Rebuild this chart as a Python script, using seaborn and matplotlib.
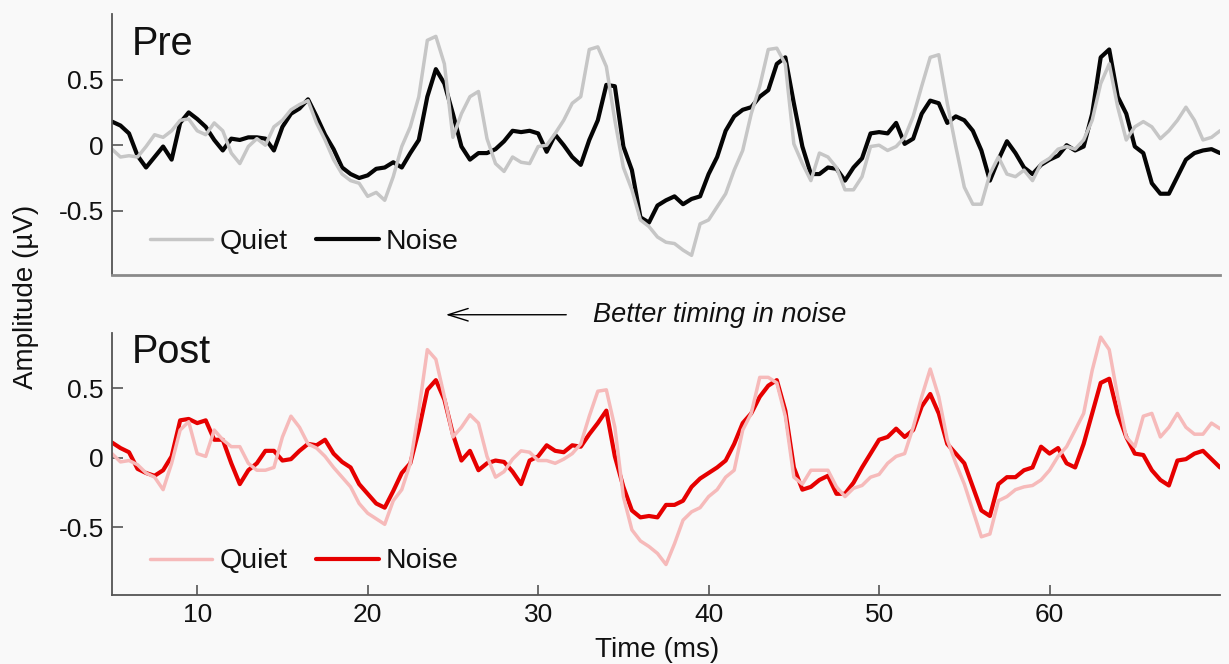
import numpy as np
import pandas as pd
import seaborn as sns
import matplotlib.pyplot as plt

# tiempo (ms), pasos de 0.5 ms
time_ms = np.arange(5, 70.01, 0.5)

# Pre: Quiet (gris) y Noise (negro), en µV
pre_quiet = [-0.03, -0.09, -0.08, -0.09, -0.01, 0.08, 0.06, 0.11, 0.19, 0.20,
             0.11, 0.08, 0.17, 0.11, -0.06, -0.14, -0.01, 0.05, 0.00, 0.14,
             0.19, 0.27, 0.31, 0.34, 0.17, 0.04, -0.11, -0.22, -0.27, -0.29,
             -0.39, -0.36, -0.42, -0.24, -0.01, 0.14, 0.37, 0.80, 0.83, 0.62,
             0.06, 0.24, 0.37, 0.41, 0.05, -0.14, -0.20, -0.09, -0.13, -0.14,
             -0.01, 0.00, 0.09, 0.19, 0.32, 0.37, 0.73, 0.75, 0.60, 0.19,
             -0.17, -0.34, -0.57, -0.62, -0.70, -0.74, -0.75, -0.80, -0.84, -0.60,
             -0.57, -0.47, -0.37, -0.19, -0.04, 0.24, 0.45, 0.73, 0.74, 0.62,
             0.01, -0.14, -0.27, -0.06, -0.09, -0.17, -0.34, -0.34, -0.24, -0.01,
             0.00, -0.04, -0.01, 0.06, 0.22, 0.45, 0.67, 0.69, 0.32, -0.01,
             -0.32, -0.45, -0.45, -0.22, -0.09, -0.22, -0.24, -0.19, -0.27, -0.14,
             -0.10, -0.03, -0.01, -0.03, 0.04, 0.19, 0.47, 0.62, 0.29, 0.04,
             0.14, 0.18, 0.14, 0.05, 0.11, 0.19, 0.29, 0.19, 0.04, 0.06,
             0.11]
pre_noise = [0.18, 0.15, 0.09, -0.08, -0.17, -0.09, -0.01, -0.11, 0.17, 0.25,
             0.20, 0.14, 0.04, -0.04, 0.05, 0.04, 0.06, 0.06, 0.05, -0.04,
             0.14, 0.24, 0.28, 0.35, 0.22, 0.08, -0.03, -0.17, -0.22, -0.25,
             -0.23, -0.18, -0.17, -0.13, -0.17, -0.06, 0.04, 0.37, 0.58, 0.47,
             0.24, -0.01, -0.11, -0.06, -0.06, -0.03, 0.03, 0.11, 0.10, 0.11,
             0.09, -0.05, 0.08, 0.00, -0.09, -0.15, 0.04, 0.19, 0.46, 0.45,
             -0.01, -0.19, -0.55, -0.59, -0.46, -0.42, -0.39, -0.45, -0.41, -0.39,
             -0.22, -0.09, 0.11, 0.22, 0.27, 0.29, 0.37, 0.42, 0.62, 0.67,
             0.32, -0.01, -0.22, -0.22, -0.17, -0.18, -0.27, -0.17, -0.10, 0.09,
             0.10, 0.09, 0.17, 0.01, 0.05, 0.24, 0.34, 0.32, 0.17, 0.22,
             0.19, 0.11, -0.04, -0.27, -0.11, 0.03, -0.06, -0.17, -0.22, -0.15,
             -0.11, -0.08, 0.00, -0.04, -0.01, 0.24, 0.67, 0.73, 0.37, 0.24,
             -0.01, -0.06, -0.29, -0.37, -0.37, -0.24, -0.11, -0.06, -0.04, -0.03,
             -0.06]

# Post: Quiet (rosa) y Noise (rojo)
post_quiet = [0.03, -0.03, -0.02, -0.05, -0.11, -0.14, -0.23, -0.04, 0.20, 0.26,
              0.03, 0.01, 0.20, 0.13, 0.08, 0.08, -0.04, -0.09, -0.09, -0.07,
              0.15, 0.30, 0.22, 0.10, 0.07, 0.01, -0.07, -0.14, -0.21, -0.33,
              -0.40, -0.44, -0.48, -0.31, -0.23, -0.04, 0.34, 0.78, 0.71, 0.44,
              0.15, 0.22, 0.31, 0.25, 0.01, -0.14, -0.10, -0.01, 0.05, 0.04,
              -0.02, -0.02, -0.04, -0.01, 0.03, 0.10, 0.30, 0.48, 0.49, 0.22,
              -0.28, -0.52, -0.60, -0.64, -0.69, -0.77, -0.62, -0.45, -0.39, -0.36,
              -0.28, -0.23, -0.14, -0.09, 0.20, 0.32, 0.58, 0.58, 0.54, 0.30,
              -0.14, -0.19, -0.09, -0.09, -0.09, -0.21, -0.28, -0.22, -0.20, -0.14,
              -0.12, -0.04, 0.01, 0.03, 0.22, 0.44, 0.64, 0.44, 0.13, -0.04,
              -0.19, -0.38, -0.57, -0.55, -0.31, -0.28, -0.23, -0.21, -0.20, -0.16,
              -0.09, 0.01, 0.08, 0.20, 0.32, 0.63, 0.87, 0.78, 0.44, 0.15,
              0.08, 0.30, 0.32, 0.15, 0.22, 0.32, 0.22, 0.17, 0.17, 0.25,
              0.21]
post_noise = [0.11, 0.07, 0.04, -0.08, -0.11, -0.13, -0.09, 0.01, 0.27, 0.28,
              0.25, 0.27, 0.13, 0.13, -0.04, -0.19, -0.09, -0.04, 0.05, 0.05,
              -0.02, -0.01, 0.05, 0.10, 0.09, 0.13, 0.03, -0.03, -0.07, -0.19,
              -0.26, -0.33, -0.36, -0.24, -0.11, -0.04, 0.20, 0.49, 0.56, 0.42,
              0.17, -0.02, 0.05, -0.09, -0.04, -0.02, -0.03, -0.10, -0.19, -0.02,
              0.01, 0.09, 0.05, 0.04, 0.09, 0.08, 0.17, 0.25, 0.34, 0.01,
              -0.21, -0.38, -0.43, -0.42, -0.43, -0.34, -0.34, -0.31, -0.21, -0.15,
              -0.11, -0.07, -0.02, 0.10, 0.25, 0.32, 0.44, 0.52, 0.56, 0.34,
              -0.07, -0.23, -0.21, -0.16, -0.13, -0.26, -0.26, -0.18, -0.07, 0.03,
              0.13, 0.15, 0.21, 0.15, 0.20, 0.37, 0.46, 0.32, 0.10, 0.03,
              -0.04, -0.21, -0.38, -0.42, -0.19, -0.14, -0.14, -0.09, -0.07, 0.08,
              0.03, 0.07, -0.04, -0.07, 0.10, 0.32, 0.54, 0.57, 0.32, 0.15,
              0.03, 0.02, -0.09, -0.16, -0.20, -0.02, -0.01, 0.03, 0.05, -0.01,
              -0.07]

sns.set_theme(style='white')
plt.rcParams['font.family'] = ['Liberation Sans', 'DejaVu Sans']
plt.rcParams['text.color'] = '#111111'

bg = '#f9f9f9'
fig = plt.figure(figsize=(12.29, 6.64), dpi=100, facecolor=bg)
ax_pre = fig.add_axes([0.0911, 0.5858, 0.9016, 0.393])
ax_post = fig.add_axes([0.0911, 0.1039, 0.9016, 0.3946])


def draw_panel(ax, quiet, noise, c_quiet, c_noise, title, ylim, title_y):
    ax.set_facecolor('none')
    # noise debajo, quiet encima (como en el original)
    sns.lineplot(x=time_ms, y=noise, ax=ax, color=c_noise, lw=3.0, label='Noise')
    sns.lineplot(x=time_ms, y=quiet, ax=ax, color=c_quiet, lw=2.5, label='Quiet')
    ax.set_xlim(5, 70)
    ax.set_ylim(*ylim)
    ax.set_yticks([-0.5, 0, 0.5])
    ax.set_yticklabels(['-0.5', '0', '0.5'])
    ax.set_xlabel('')
    ax.set_ylabel('')
    ax.tick_params(direction='in', length=8, width=1.2, color='#555555',
                   labelcolor='#111111', labelsize=19, pad=6, left=True, bottom=True)
    sns.despine(ax=ax)
    for s in ['left', 'bottom']:
        ax.spines[s].set_color('#555555')
        ax.spines[s].set_linewidth(1.3)
    ax.text(0.018, title_y, title, transform=ax.transAxes, fontsize=28.5,
            color='#111111', va='baseline', ha='left')
    h, l = ax.get_legend_handles_labels()
    ax.legend([h[1], h[0]], [l[1], l[0]], loc='center left',
              bbox_to_anchor=(0.034, 0.128), ncol=2, frameon=False,
              fontsize=20.5, handlelength=2.2, handletextpad=0.25,
              columnspacing=1.0, borderpad=0, borderaxespad=0,
              labelcolor='#111111')


draw_panel(ax_pre, pre_quiet, pre_noise, '#c6c6c6', '#050505', 'Pre', (-0.99, 1.0), 0.843)
draw_panel(ax_post, post_quiet, post_noise, '#f6baba', '#e60000', 'Post', (-0.99, 0.90), 0.885)

ax_pre.set_xticks([])
ax_pre.spines['bottom'].set_color('#8a8a8a')
ax_pre.spines['bottom'].set_linewidth(2)
ax_post.set_xticks([10, 20, 30, 40, 50, 60])
ax_post.tick_params(axis='x', length=7)

fig.text(0.021, 0.553, 'Amplitude (µV)', rotation=90, ha='center', va='center',
         fontsize=20, color='#111111')
fig.text(0.5345, 0.01, 'Time (ms)', ha='center', va='baseline', fontsize=20,
         color='#111111')

# flecha y anotacion
fig.text(0.4825, 0.515, 'Better timing in noise', style='italic', ha='left',
         va='baseline', fontsize=19.5, color='#111111')
ax_pre.annotate('', xy=(0.3605, 0.526), xytext=(0.463, 0.526),
                xycoords='figure fraction', textcoords='figure fraction',
                arrowprops=dict(arrowstyle='->,head_length=0.8,head_width=0.25',
                                color='black', lw=1.0, mutation_scale=18),
                annotation_clip=False)

plt.savefig('out.png', dpi=100, facecolor=bg)
